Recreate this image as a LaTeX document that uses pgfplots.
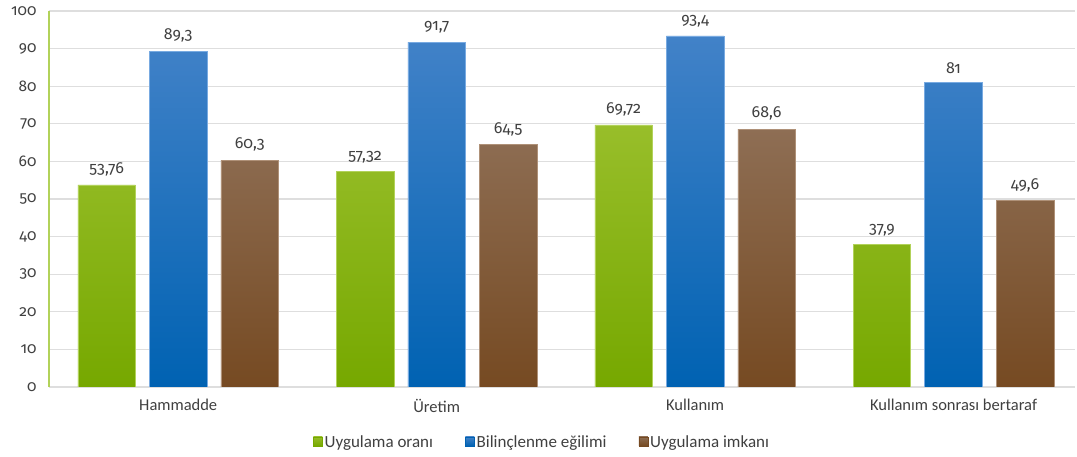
\documentclass[border=0pt]{standalone}
\usepackage{fontspec}
\setmainfont{Carlito}
\newfontfamily\numfont{Fira Sans}[Numbers=OldStyle]
\usepackage{pgfplots}
\pgfplotsset{compat=1.18}

\definecolor{gTop}{RGB}{152,190,42}
\definecolor{gBot}{RGB}{118,168,0}
\definecolor{gLine}{RGB}{178,210,90}
\definecolor{bTop}{RGB}{66,130,200}
\definecolor{bBot}{RGB}{0,98,178}
\definecolor{bLine}{RGB}{120,170,225}
\definecolor{rTop}{RGB}{142,110,84}
\definecolor{rBot}{RGB}{118,74,34}
\definecolor{rLine}{RGB}{175,145,120}
\definecolor{gridgray}{RGB}{222,222,222}
\definecolor{txt}{RGB}{64,64,64}

\pgfplotstableread{
x oran egilim imkan
0 53.76 89.3 60.3
1 57.32 91.7 64.5
2 69.72 93.4 68.6
3 37.9  81   49.6
}\datatable

\begin{document}
\begin{tikzpicture}
\begin{axis}[
    scale only axis,
    width=1026pt, height=376pt,
    xmin=-0.5, xmax=3.47,
    ymin=0, ymax=100,
    ybar=14pt,
    bar width=0.2226,
    ytick={0,10,...,100},
    xtick={0,1,2,3},
    xticklabels={Hammadde, Üretim, Kullanım, Kullanım sonrası bertaraf},
    ymajorgrids,
    grid style={draw=gridgray, line width=1.2pt},
    axis x line*=bottom,
    axis y line*=left,
    x axis line style={-, draw=gridgray, line width=1.2pt},
    y axis line style={-, draw=gLine, line width=1.2pt},
    major tick length=0pt,
    xticklabel style={font=\fontsize{16.5}{18}\selectfont, text=txt, yshift=-9pt},
    yticklabel style={font=\numfont\fontsize{15.5}{18}\selectfont, text=txt, xshift=-9pt},
    /pgf/number format/.cd, use comma, 1000 sep={}, assume math mode=true,
    /pgfplots/.cd,
    nodes near coords,
    every node near coord/.append style={font=\numfont\fontsize{16}{18}\selectfont, text=txt, yshift=5pt},
    legend columns=3,
    legend style={draw=none, fill=none, at={(0.4805,-0.146)}, anchor=center,
        font=\fontsize{17}{18}\selectfont, text=txt,
        /tikz/every even column/.append style={column sep=30pt}},
    legend cell align=left,
]
\addplot[draw=gLine, line width=0.6pt, top color=gTop, bottom color=gBot,
    legend image code/.code={\fill[gBot] (0pt,-4pt) rectangle (9pt,5pt);}]
    table[x=x, y=oran] {\datatable};
\addlegendentry{Uygulama oranı}
\addplot[draw=bLine, line width=0.6pt, top color=bTop, bottom color=bBot,
    legend image code/.code={\fill[bBot] (0pt,-4pt) rectangle (9pt,5pt);}]
    table[x=x, y=egilim] {\datatable};
\addlegendentry{Bilinçlenme eğilimi}
\addplot[draw=rLine, line width=0.6pt, top color=rTop, bottom color=rBot,
    legend image code/.code={\fill[rBot] (0pt,-4pt) rectangle (9pt,5pt);}]
    table[x=x, y=imkan] {\datatable};
\addlegendentry{Uygulama imkanı}
\end{axis}
\pgfresetboundingbox
\path[use as bounding box] (current axis.south west) ++(-49pt,-70pt) rectangle ++(1077pt,457pt);
\end{tikzpicture}
\end{document}
